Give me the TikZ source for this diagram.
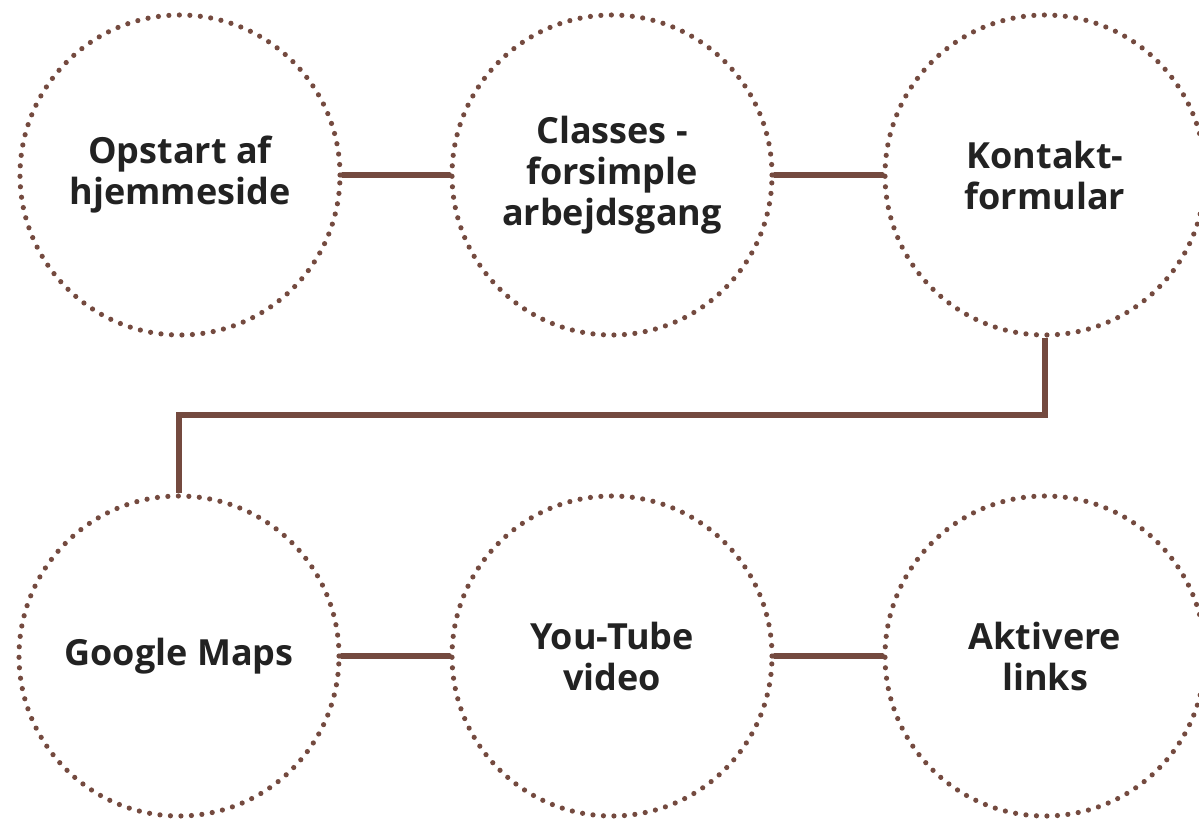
\documentclass[tikz,border=0pt]{standalone}
\usepackage{fontspec}
\setmainfont{Open Sans}
\definecolor{brownline}{HTML}{744A3F}
\definecolor{txt}{HTML}{222222}
\begin{document}
\begin{tikzpicture}[x=0.5pt,y=-0.5pt,
  stepcircle/.style={circle, minimum size=160pt, inner sep=0pt, draw=brownline,
    line width=2.6pt, line cap=round, dash pattern=on 0pt off 5.25pt,
    align=center, text=txt, font=\bfseries\fontsize{18}{20.5}\selectfont},
  link/.style={draw=brownline, line width=2.6pt, line cap=round}]
\useasboundingbox (0,0) rectangle (1199,819);
\node[stepcircle] (n1) at (180,175) {Opstart af\\hjemmeside};
\node[stepcircle] (n2) at (612,175) {Classes -\\forsimple\\arbejdsgang};
\node[stepcircle] (n3) at (1045,175) {Kontakt-\\formular};
\node[stepcircle] (n4) at (179,656) {Google Maps};
\node[stepcircle] (n5) at (612,656) {You-Tube\\video};
\node[stepcircle] (n6) at (1045,656) {Aktivere\\links};
\coordinate (bend) at (1045,415);
\draw[link] (n1.east) -- (n2.west);
\draw[link] (n2.east) -- (n3.west);
\draw[link, line cap=butt] (n3.south) -- (bend) -| (n4.north);
\draw[link] (n4.east) -- (n5.west);
\draw[link] (n5.east) -- (n6.west);
\end{tikzpicture}
\end{document}
